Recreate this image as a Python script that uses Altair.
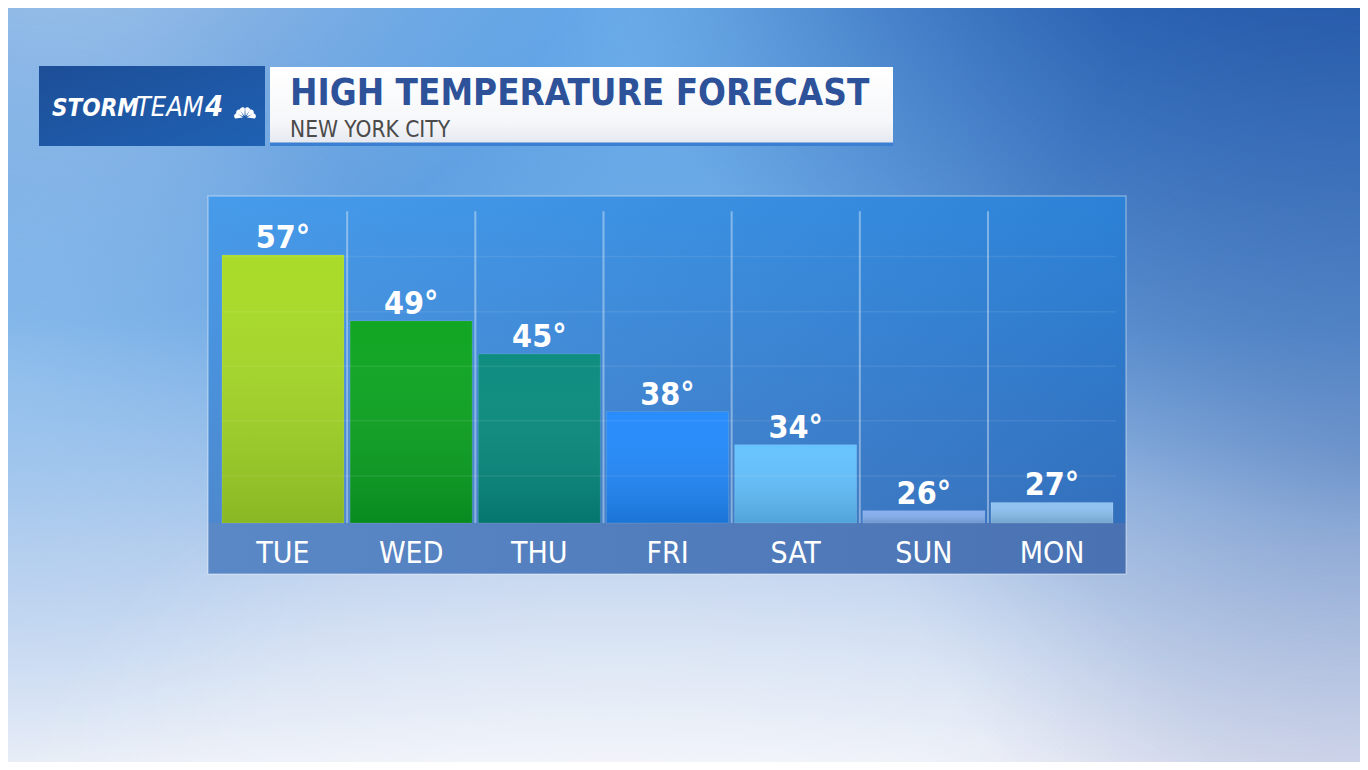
import altair as alt
import pandas as pd

# ---------------- data ----------------
days = ["TUE", "WED", "THU", "FRI", "SAT", "SUN", "MON"]
highs = [57, 49, 45, 38, 34, 26, 27]
bar_colors = ["#a6da22", "#09a31c", "#068a7c", "#2189fc", "#62c1fe", "#86aff0", "#8cc2f1"]
title_text = "HIGH TEMPERATURE FORECAST"
subtitle_text = "NEW YORK CITY"
brand_parts = ["STORM", "TEAM", "4"]
y_floor = 24.5
y_top = 62.5
grid_values = [30.2, 36.9, 43.5, 50.1, 56.8]
peacock_angles = [283, 313, 343, 17, 47, 77]

W, H = 1352, 754
FONT = "DejaVu Sans Condensed"

df = pd.DataFrame({"day": days, "high": highs})
df["label"] = [f"{v}°" for v in highs]
sep_df = pd.DataFrame({"day": days[1:]})
grid_df = pd.DataFrame({"g": grid_values})
pea_df = pd.DataFrame({"a": peacock_angles})
one = pd.DataFrame({"k": [0]})


def lin(stops, x1=0, y1=0, x2=0, y2=1):
    return {"gradient": "linear", "x1": x1, "y1": y1, "x2": x2, "y2": y2,
            "stops": [{"offset": o, "color": c} for o, c in stops]}


def rad(cx, cy, r, stops):
    return {"gradient": "radial", "x1": cx, "y1": cy, "r1": 0, "x2": cx, "y2": cy, "r2": r,
            "stops": [{"offset": o, "color": c} for o, c in stops]}


def rect(x, x2, y, y2, **kw):
    return alt.Chart(one).mark_rect(**kw).encode(
        x=alt.value(x), x2=alt.value(x2), y=alt.value(y), y2=alt.value(y2))


def label(text, x, y, **kw):
    return alt.Chart(one).mark_text(text=text, **kw).encode(x=alt.value(x), y=alt.value(y))


x_scale = alt.Scale(domain=days, range=[214, 1105], paddingInner=0.048, paddingOuter=0)
y_scale = alt.Scale(domain=[y_floor, y_top], range=[515, 201.5], zero=False, nice=False)

# ---------------- background sky ----------------
sky = [
    rect(0, W, 0, H, fill=lin([(0, "#3f86d5"), (0.42, "#6da7e3"), (0.72, "#b7cdec"), (1, "#eaeef7")])),
    rect(0, W, 0, H, fill=rad(0.04, 0.03, 0.42, [(0, "rgba(255,255,255,0.8)"), (1, "rgba(255,255,255,0)")])),
    rect(0, W, 0, H, fill=rad(0.0, 0.5, 0.3, [(0, "rgba(170,210,245,0.45)"), (1, "rgba(170,210,245,0)")])),
    rect(0, W, 0, H, fill=rad(0.5, 0.18, 0.33, [(0, "rgba(150,210,255,0.6)"), (1, "rgba(150,210,255,0)")])),
    rect(0, W, 0, H, fill=rad(1.0, 0.0, 0.6, [(0, "rgba(25,65,145,0.95)"), (1, "rgba(25,65,145,0)")])),
    rect(0, W, 0, H, fill=rad(1.0, 0.55, 0.35, [(0, "rgba(50,90,160,0.35)"), (1, "rgba(50,90,160,0)")])),
    rect(0, W, 0, H, fill=rad(0.45, 1.0, 0.5, [(0, "rgba(255,255,255,0.65)"), (1, "rgba(255,255,255,0)")])),
    rect(0, W, 0, H, fill=rad(1.0, 1.0, 0.4, [(0, "rgba(175,175,215,0.45)"), (1, "rgba(175,175,215,0)")])),
]

# ---------------- header ----------------
header = [
    rect(31, 257, 58, 138, fill=lin([(0, "#1d4e97"), (1, "#1f61b3")], 0, 0, 1, 1)),
    rect(262, 885, 59, 137, fill=lin([(0, "#ffffff"), (0.7, "#f6f7fa"), (1, "#e3e7ee")])),
    rect(262, 885, 134.5, 138, fill="#3b7fd3"),
    label(brand_parts[0], 44, 108, font=FONT, fontSize=24, fontWeight="bold", fontStyle="italic",
          color="white", align="left", baseline="alphabetic"),
    label(brand_parts[1], 128, 108, font=FONT, fontSize=27, fontStyle="italic",
          color="white", align="left", baseline="alphabetic"),
    label(brand_parts[2], 197, 108, font=FONT, fontSize=29, fontWeight="bold", fontStyle="italic",
          color="white", align="left", baseline="alphabetic"),
    alt.Chart(pea_df).mark_point(
        shape="M0,-0.16 L0.21,-0.72 A0.22,0.22 0 0,0 -0.21,-0.72 Z",
        filled=True, color="white", opacity=1, size=640, strokeWidth=0,
    ).encode(x=alt.value(237), y=alt.value(110), angle=alt.Angle("a:Q", scale=None)),
    label(title_text, 282, 97, font=FONT, fontSize=36.5, fontWeight="bold",
          color="#2d5299", align="left", baseline="alphabetic"),
    label(subtitle_text, 282, 129, font=FONT, fontSize=22.5,
          color="#4b4b4b", align="left", baseline="alphabetic"),
]

# ---------------- panel ----------------
panel = [
    rect(200, 1118, 188, 566, fill=lin([(0, "#3190e8"), (1, "#3b78c4")])),
    rect(200, 1118, 188, 566, fill=lin([(0, "rgba(255,255,255,0.10)"), (1, "rgba(10,40,110,0.14)")], 0, 0, 1, 0)),
    rect(200, 1118, 515, 566, fill=lin([(0, "#5a88c6"), (1, "#4a72b3")], 0, 0, 1, 0)),
    rect(200, 1118, 188, 566, fill="transparent", stroke="rgba(255,255,255,0.35)", strokeWidth=1.5),
]

separators = alt.Chart(sep_df).mark_rule(color="rgba(255,255,255,0.38)", strokeWidth=2, xOffset=-3).encode(
    x=alt.X("day:N", scale=x_scale, bandPosition=0, axis=None),
    y=alt.Y(datum=62.3, scale=y_scale, axis=None),
    y2=alt.datum(y_floor),
)

bars = alt.Chart(df).mark_bar().encode(
    x=alt.X("day:N", scale=x_scale, axis=None),
    y=alt.Y("high:Q", scale=y_scale, axis=None),
    y2=alt.datum(y_floor),
    color=alt.Color("day:N", scale=alt.Scale(domain=days, range=bar_colors), legend=None),
)

bar_shade = alt.Chart(df).mark_bar(
    fill=lin([(0, "rgba(255,255,255,0.03)"), (1, "rgba(0,25,45,0.18)")]),
    stroke="rgba(255,255,255,0.12)", strokeWidth=1,
).encode(
    x=alt.X("day:N", scale=x_scale, axis=None),
    y=alt.Y("high:Q", scale=y_scale, axis=None),
    y2=alt.datum(y_floor),
)

grid = alt.Chart(grid_df).mark_rule(color="rgba(255,255,255,0.08)", strokeWidth=1.5).encode(
    y=alt.Y("g:Q", scale=y_scale, axis=None),
    x=alt.value(214), x2=alt.value(1108),
)

values = alt.Chart(df).mark_text(
    font=FONT, fontSize=32, fontWeight="bold", color="white", baseline="alphabetic", dy=-7
).encode(
    x=alt.X("day:N", scale=x_scale, axis=None),
    y=alt.Y("high:Q", scale=y_scale, axis=None),
    text="label:N",
)

day_labels = alt.Chart(df).mark_text(
    font=FONT, fontSize=30, color="white", baseline="alphabetic"
).encode(
    x=alt.X("day:N", scale=x_scale, axis=None),
    y=alt.value(555),
    text="day:N",
)

chart = alt.layer(
    *sky, *header, *panel, separators, bars, bar_shade, grid, values, day_labels
).properties(
    width=W, height=H, padding=0, autosize="none"
).configure_view(stroke=None)

chart.save("out.html", embed_options={"renderer": "svg", "actions": False})
